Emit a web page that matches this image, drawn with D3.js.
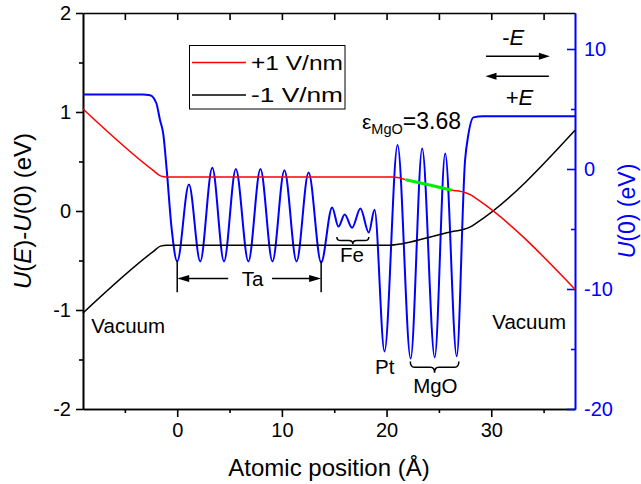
<!DOCTYPE html>
<html>
<head>
<meta charset="utf-8">
<script src="https://cdn.jsdelivr.net/npm/d3@7"></script>
<style>
  body { margin: 0; background: #fff; }
  svg text { font-family: Arial, "Liberation Sans", sans-serif; }
</style>
</head>
<body>
<div id="chart"></div>
<script>
// --- data --- \\
var xTicks = [0, 10, 20, 30]
  , xMinor = [-5, 5, 15, 25, 35]
  , leftTicks = [-2, -1, 0, 1, 2]
  , leftMinor = [-1.5, -0.5, 0.5, 1.5]
  , rightTicks = [-20, -10, 0, 10]
  , rightMinor = [-15, -5, 5];

// +1 V/nm (red), energy shift in eV
var redPoints = [[-9, 1.03], [-2.3, 0.41], [-1.6, 0.355], [-1.0, 0.343], [20.5, 0.343],
  [21.2, 0.335], [21.8, 0.317]];
var greenPoints = [[21.8, 0.317], [24.0, 0.265], [26.25, 0.21]];
var redTail = [[26.25, 0.21], [27.4, 0.19], [28.0, 0.165], [28.65, 0.12], [38, -0.79]];

// -1 V/nm (black)
var blackPoints = [[-9, -1.03], [-2.3, -0.41], [-1.6, -0.355], [-1.0, -0.346], [20.3, -0.346],
  [21.5, -0.33], [23.9, -0.27], [26.4, -0.205], [27.4, -0.185], [28.0, -0.16], [28.6, -0.12], [38, 0.815]];

// U(0) potential (blue, right axis)
var bluePoints = [[-9, 6.2], [-3.3, 6.2], [-2.6, 6.15], [-2.0, 5.5], [-1.65, 4.1], [-1.33, 2.9],
  [-1.0, -0.1], [-0.54, -4.9], [0, -7.7],
  [1.12, -1.3], [2.2, -7.7], [3.35, 0.1], [4.47, -7.7], [5.6, 0.0], [6.8, -7.7], [7.95, 0.0],
  [9.1, -7.7], [10.24, -0.1], [11.4, -7.7], [12.55, -0.3], [13.75, -7.8],
  [14.8, -3.2], [15.4, -4.8], [16.0, -3.8], [16.7, -4.9], [17.5, -3.3], [18.3, -5.3], [18.85, -3.4],
  [19.8, -15.2], [21.05, 2.0], [22.3, -15.8], [23.4, 1.7], [24.6, -15.7], [25.6, 1.3], [26.7, -15.6],
  [27.5, 0.75], [27.8, 2.8], [28.3, 4.3], [29.2, 4.4], [38, 4.4]];

var legendItems = [["+1 V/nm", "#ff0000"], ["-1 V/nm", "#000000"]];

// --- layout --- \\
var width = 641, height = 484
  , margin = {top: 13, right: 66, bottom: 75, left: 83};

var svg = d3.select("#chart").append("svg")
  .attr("width", width).attr("height", height);

var x = d3.scaleLinear().domain([-9, 38]).range([margin.left, width - margin.right]);
var yL = d3.scaleLinear().domain([-2, 2]).range([height - margin.bottom, margin.top]);
var yR = d3.scaleLinear().domain([-20, 13]).range([height - margin.bottom, margin.top]);

function styleAxis(g, color) {
  g.selectAll("path, line").attr("stroke", color).attr("stroke-width", 1.6);
  g.selectAll("text").attr("fill", color).style("font-size", "20px");
}
function intFmt(d) { return d3.format("d")(d).replace("−", "-"); }

// bottom
svg.append("g").attr("transform", "translate(0," + yL.range()[0] + ")")
  .call(d3.axisBottom(x).tickValues(xTicks).tickSize(8).tickSizeOuter(0).tickPadding(6))
  .call(styleAxis, "#000");
svg.append("g").attr("transform", "translate(0," + yL.range()[0] + ")")
  .call(d3.axisBottom(x).tickValues(xMinor).tickSize(4).tickSizeOuter(0).tickFormat(""))
  .call(styleAxis, "#000");
// top
svg.append("g").attr("transform", "translate(0," + margin.top + ")")
  .call(d3.axisTop(x).tickValues(xTicks.concat(xMinor)).tickSize(-7).tickSizeOuter(0).tickFormat(""))
  .call(styleAxis, "#000");
// left
svg.append("g").attr("transform", "translate(" + margin.left + ",0)")
  .call(d3.axisLeft(yL).tickValues(leftTicks).tickSize(7).tickSizeOuter(0).tickPadding(5).tickFormat(intFmt))
  .call(styleAxis, "#000");
svg.append("g").attr("transform", "translate(" + margin.left + ",0)")
  .call(d3.axisLeft(yL).tickValues(leftMinor).tickSize(4).tickSizeOuter(0).tickFormat(""))
  .call(styleAxis, "#000");
// right (blue)
svg.append("g").attr("transform", "translate(" + (width - margin.right) + ",0)")
  .call(d3.axisRight(yR).tickValues(rightTicks).tickSize(-8).tickSizeOuter(0).tickPadding(9).tickFormat(intFmt))
  .call(styleAxis, "#0000ff");
svg.append("g").attr("transform", "translate(" + (width - margin.right) + ",0)")
  .call(d3.axisRight(yR).tickValues(rightMinor).tickSize(-4).tickSizeOuter(0).tickFormat(""))
  .call(styleAxis, "#0000ff");

// --- lines --- \\
var lineL = d3.line().x(function(d) { return x(d[0]); }).y(function(d) { return yL(d[1]); })
  .curve(d3.curveMonotoneX);
var lineR = d3.line().x(function(d) { return x(d[0]); }).y(function(d) { return yR(d[1]); })
  .curve(d3.curveMonotoneX);

svg.append("path").attr("d", lineR(bluePoints)).attr("fill", "none")
  .attr("stroke", "#0000ff").attr("stroke-width", 2);
svg.append("path").attr("d", lineL(blackPoints)).attr("fill", "none")
  .attr("stroke", "#000").attr("stroke-width", 1.5);
svg.append("path").attr("d", lineL(redPoints)).attr("fill", "none")
  .attr("stroke", "#ff0000").attr("stroke-width", 1.5);
svg.append("path").attr("d", lineL(redTail)).attr("fill", "none")
  .attr("stroke", "#ff0000").attr("stroke-width", 1.5);
svg.append("path").attr("d", lineL(greenPoints)).attr("fill", "none")
  .attr("stroke", "#00ee00").attr("stroke-width", 3);

// --- legend --- \\
var legend = svg.append("g");
legend.append("rect").attr("x", 189.5).attr("y", 45.5).attr("width", 155.5).attr("height", 63.5)
  .attr("fill", "#fff").attr("stroke", "#000").attr("stroke-width", 1);
legendItems.forEach(function(d, i) {
  var ly = 62.5 + i * 32.5;
  legend.append("line").attr("x1", 192).attr("x2", 246).attr("y1", ly).attr("y2", ly)
    .attr("stroke", d[1]).attr("stroke-width", 1.5);
  legend.append("text").attr("x", 251).attr("y", ly + 7).style("font-size", "20px")
    .attr("textLength", 92).attr("lengthAdjust", "spacingAndGlyphs").text(d[0]);
});

// --- annotations --- \\
function label(t, xv, yv, size, anchor) {
  return svg.append("text").attr("x", x(xv)).attr("y", yL(yv)).style("font-size", size + "px")
    .attr("text-anchor", anchor || "middle").text(t);
}
function arrow(x1, y1, x2, y2, len, half) {
  var px1 = x(x1), py1 = yL(y1), px2 = x(x2), py2 = yL(y2)
    , dir = px2 > px1 ? 1 : -1;
  svg.append("line").attr("x1", px1).attr("y1", py1).attr("x2", px2 - dir * len * 0.6).attr("y2", py2)
    .attr("stroke", "#000").attr("stroke-width", 1.5);
  svg.append("path").attr("fill", "#000")
    .attr("d", "M" + px2 + "," + py2 + "L" + (px2 - dir * len) + "," + (py2 - half) +
      "L" + (px2 - dir * len) + "," + (py2 + half) + "Z");
}
function brace(x0, x1, ytop, ytip) {
  var a = x(x0), b = x(x1), m = (a + b) / 2, t = yL(ytop), p = yL(ytip), mid = (t + p) / 2, r = 4;
  svg.append("path").attr("fill", "none").attr("stroke", "#000").attr("stroke-width", 1.5)
    .attr("d", "M" + a + "," + t + "Q" + a + "," + mid + " " + (a + r) + "," + mid +
      "L" + (m - r) + "," + mid + "Q" + m + "," + mid + " " + m + "," + p +
      "Q" + m + "," + mid + " " + (m + r) + "," + mid +
      "L" + (b - r) + "," + mid + "Q" + b + "," + mid + " " + b + "," + t);
}

label("Vacuum", -8.2, -1.232, 20.5, "start");
label("Vacuum", 30.1, -1.195, 20.5, "start");
label("Pt", 19.83, -1.642, 20.5);
label("MgO", 24.66, -1.838, 20.5);
label("Fe", 16.7, -0.518, 20.5);
label("Ta", 7.2, -0.76, 20.5);

// Ta span
[0, 13.75].forEach(function(v) {
  svg.append("line").attr("x1", x(v)).attr("x2", x(v)).attr("y1", yL(-0.5)).attr("y2", yL(-0.82))
    .attr("stroke", "#000").attr("stroke-width", 1.5);
});
arrow(4.87, -0.683, 0, -0.683, 12, 3.5);
arrow(9.06, -0.683, 13.75, -0.683, 12, 3.5);

brace(15.25, 18.3, -0.262, -0.335);
brace(22.27, 26.9, -1.52, -1.635);

// field direction
arrow(29.5, 1.563, 35.6, 1.563, 11, 3.5);
arrow(35.5, 1.36, 29.45, 1.36, 11, 3.5);
var tE1 = label("", 32.1, 1.674, 22);
tE1.append("tspan").text("-");
tE1.append("tspan").style("font-style", "italic").text("E");
var tE2 = label("", 32.7, 1.068, 22);
tE2.append("tspan").text("+");
tE2.append("tspan").style("font-style", "italic").text("E");

// permittivity
var eps = label("", 17.65, 0.83, 21, "start");
eps.append("tspan").text("ε");
eps.append("tspan").attr("dy", 5).style("font-size", "14.5px").text("MgO");
eps.append("tspan").attr("dy", -5).style("font-size", "23px").text("=3.68");

// --- axis titles --- \\
svg.append("text").attr("x", (margin.left + width - margin.right) / 2).attr("y", 476)
  .attr("text-anchor", "middle").style("font-size", "24px").text("Atomic position (Å)");

var ytl = svg.append("text").attr("transform", "translate(31,211) rotate(-90)")
  .attr("text-anchor", "middle").style("font-size", "24px");
ytl.append("tspan").style("font-style", "italic").text("U");
ytl.append("tspan").text("(");
ytl.append("tspan").style("font-style", "italic").text("E");
ytl.append("tspan").text(")-");
ytl.append("tspan").style("font-style", "italic").text("U");
ytl.append("tspan").text("(0) (eV)");

var ytr = svg.append("text").attr("transform", "translate(635,211) rotate(-90)")
  .attr("text-anchor", "middle").attr("fill", "#0000ff").style("font-size", "23px");
ytr.append("tspan").style("font-style", "italic").text("U");
ytr.append("tspan").text("(0) (eV)");
</script>
</body>
</html>
